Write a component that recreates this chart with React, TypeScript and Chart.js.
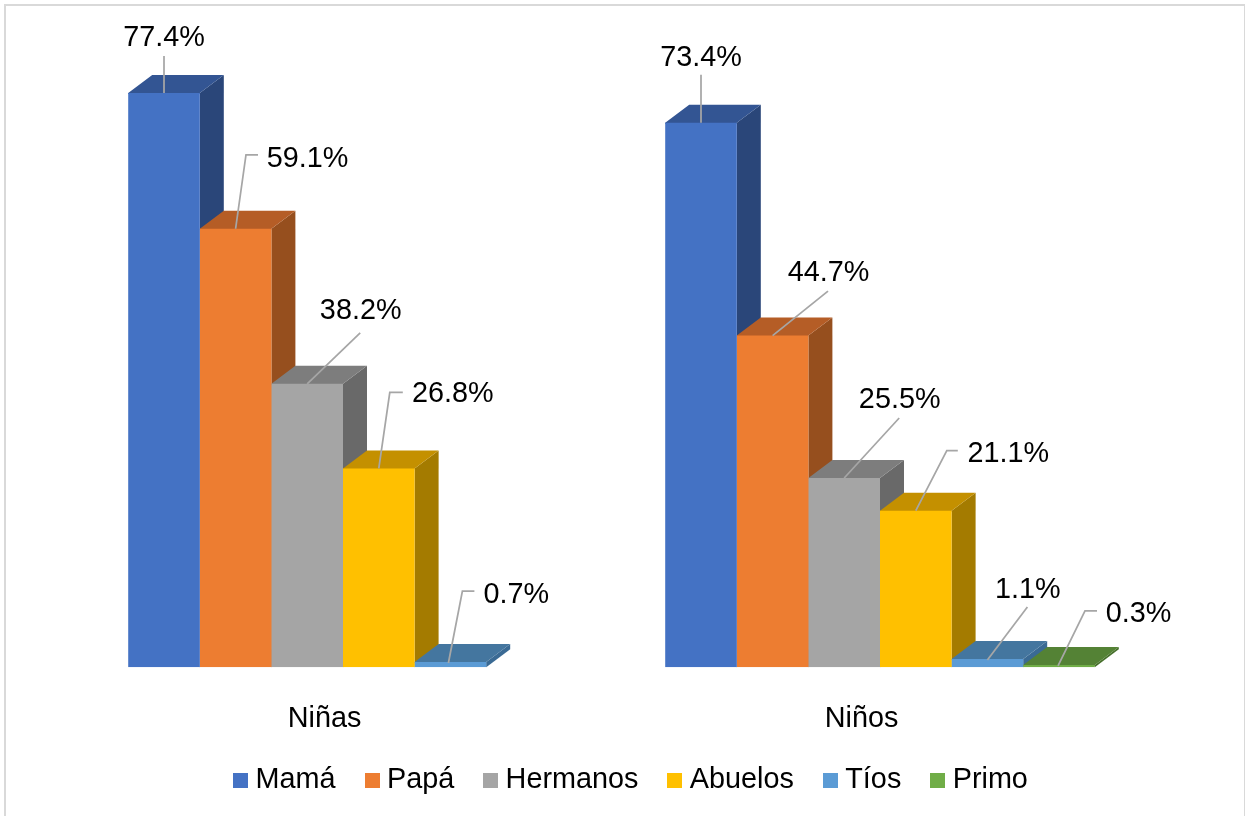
import React, { useEffect, useRef } from "react";
import { Chart, registerables } from "chart.js";

Chart.register(...registerables);

const categories = ["Niñas", "Niños"];
const mama = [77.4, 73.4];
const papa = [59.1, 44.7];
const hermanos = [38.2, 25.5];
const abuelos = [26.8, 21.1];
const tios = [0.7, 1.1];
const primo = [null, 0.3];

const FONT = "'Liberation Sans', Arial, sans-serif";
const FONT_SIZE = 28.8;
const DEPTH_X = 24;
const DEPTH_Y = 18;

const seriesStyle = [
  { label: "Mamá", data: mama, front: "#4472C4", top: "#335593", side: "#2A4679" },
  { label: "Papá", data: papa, front: "#ED7D31", top: "#B55D26", side: "#964F1E" },
  { label: "Hermanos", data: hermanos, front: "#A5A5A5", top: "#7D7D7D", side: "#696969" },
  { label: "Abuelos", data: abuelos, front: "#FFC000", top: "#C49000", side: "#A47B00" },
  { label: "Tíos", data: tios, front: "#5B9BD5", top: "#44769F", side: "#3A6A94" },
  { label: "Primo", data: primo, front: "#70AD47", top: "#548235", side: "#47702C" },
];

// Callout layout, relative to each bar's top centre: [series][category]
type Callout = { tx: number; ty: number; line: number[][] } | null;
const callouts: Callout[][] = [
  [
    { tx: 0, ty: -55, line: [[0, -37], [0, 0]] },
    { tx: 0, ty: -65, line: [[0, -48], [0, 0]] },
  ],
  [
    { tx: 72, ty: -70, line: [[22.4, -74], [10.4, -74], [0, 0]] },
    { tx: 56, ty: -62.5, line: [[55.4, -44.5], [0, 0]] },
  ],
  [
    { tx: 53.5, ty: -73, line: [[53, -51], [0, 0]] },
    { tx: 55.5, ty: -78, line: [[55, -60], [0, 0]] },
  ],
  [
    { tx: 74, ty: -74, line: [[24, -76], [11, -76], [0, 0]] },
    { tx: 92.5, ty: -56.5, line: [[42, -60], [31, -60], [0, 0]] },
  ],
  [
    { tx: 66, ty: -67, line: [[24, -71], [12, -71], [-2, 1]] },
    { tx: 40.5, ty: -69, line: [[40, -52], [0, 1]] },
  ],
  [null, { tx: 79.5, ty: -51, line: [[38, -54], [26, -54], [-1, 1]] }],
];

function legendSwatch(color: string) {
  const c = document.createElement("canvas");
  c.width = 15;
  c.height = 15;
  const g = c.getContext("2d")!;
  g.fillStyle = color;
  g.fillRect(0, 0, 15, 15);
  return c;
}

const boxes3d = {
  id: "boxes3d",
  afterLayout(chart: any) {
    const lg = chart.legend;
    if (lg) {
      const dx = 22.5;
      lg.left += dx;
      lg.right += dx;
      lg.top = 767.5 - lg.height / 2;
      lg.bottom = lg.top + lg.height;
    }
  },
  beforeDatasetsDraw(chart: any) {
    const ctx = chart.ctx;
    categories.forEach((_, ci) => {
      seriesStyle.forEach((s, si) => {
        if (s.data[ci] == null) return;
        const b = chart.getDatasetMeta(si).data[ci];
        const hw = b.width / 2;
        const l = b.x - hw;
        const r = b.x + hw;
        const t = b.y;
        const base = b.base;
        ctx.save();
        ctx.fillStyle = s.side;
        ctx.beginPath();
        ctx.moveTo(r, t);
        ctx.lineTo(r + DEPTH_X, t - DEPTH_Y);
        ctx.lineTo(r + DEPTH_X, base - DEPTH_Y);
        ctx.lineTo(r, base);
        ctx.closePath();
        ctx.fill();
        ctx.fillStyle = s.top;
        ctx.beginPath();
        ctx.moveTo(l, t + 1);
        ctx.lineTo(l, t);
        ctx.lineTo(l + DEPTH_X, t - DEPTH_Y);
        ctx.lineTo(r + DEPTH_X, t - DEPTH_Y);
        ctx.lineTo(r, t);
        ctx.lineTo(r, t + 1);
        ctx.closePath();
        ctx.fill();
        ctx.restore();
      });
    });
  },
  afterDatasetsDraw(chart: any) {
    const ctx = chart.ctx;
    ctx.save();
    ctx.font = `${FONT_SIZE}px ${FONT}`;
    ctx.textAlign = "center";
    ctx.textBaseline = "middle";
    seriesStyle.forEach((s, si) => {
      s.data.forEach((v, ci) => {
        const c = callouts[si][ci];
        if (v == null || !c) return;
        const b = chart.getDatasetMeta(si).data[ci];
        ctx.strokeStyle = "#A6A6A6";
        ctx.lineWidth = 1.75;
        ctx.beginPath();
        c.line.forEach((p, i) => {
          if (i === 0) ctx.moveTo(b.x + p[0], b.y + p[1]);
          else ctx.lineTo(b.x + p[0], b.y + p[1]);
        });
        ctx.stroke();
        ctx.fillStyle = "#000000";
        ctx.fillText(`${v.toFixed(1)}%`, b.x + c.tx, b.y + c.ty);
      });
    });
    ctx.restore();
  },
};

export default function App() {
  const ref = useRef<HTMLCanvasElement>(null);

  useEffect(() => {
    const chart = new Chart(ref.current!, {
      type: "bar",
      plugins: [boxes3d],
      data: {
        labels: categories,
        datasets: seriesStyle.map((s) => ({
          label: s.label,
          data: s.data,
          backgroundColor: s.front,
          borderWidth: 0,
          barPercentage: 1,
          categoryPercentage: 0.8,
        })),
      },
      options: {
        responsive: false,
        animation: false,
        layout: { padding: { left: 74.5, right: 96.5, top: 73.7, bottom: 0 } },
        scales: {
          x: {
            grid: { display: false },
            border: { display: false },
            ticks: {
              color: "#000000",
              font: { family: FONT, size: FONT_SIZE },
              padding: 27,
              labelOffset: -18.5,
              maxRotation: 0,
            },
            afterFit: (s: any) => {
              s.height = 74;
            },
          },
          y: {
            display: false,
            min: 0,
            max: 80,
          },
        },
        plugins: {
          tooltip: { enabled: false },
          legend: {
            position: "bottom",
            labels: {
              color: "#000000",
              font: { family: FONT, size: FONT_SIZE },
              padding: 36,
              usePointStyle: true,
              pointStyleWidth: 1,
              generateLabels: (c: any) =>
                Chart.defaults.plugins.legend.labels.generateLabels(c).map((it: any, i: number) => ({
                  ...it,
                  pointStyle: legendSwatch(seriesStyle[i].front),
                })),
            },
          },
        },
      },
    } as any);
    return () => chart.destroy();
  }, []);

  return (
    <div style={{ position: "absolute", left: 0, top: 0, width: 1245, height: 816, overflow: "hidden", background: "#fff" }}>
      <canvas ref={ref} width={1245} height={816} style={{ display: "block", position: "absolute", left: 0, top: 0 }} />
      <div
        style={{
          position: "absolute",
          left: 4,
          top: 4,
          width: 1238,
          height: 830,
          border: "2px solid #D9D9D9",
          pointerEvents: "none",
        }}
      />
    </div>
  );
}
